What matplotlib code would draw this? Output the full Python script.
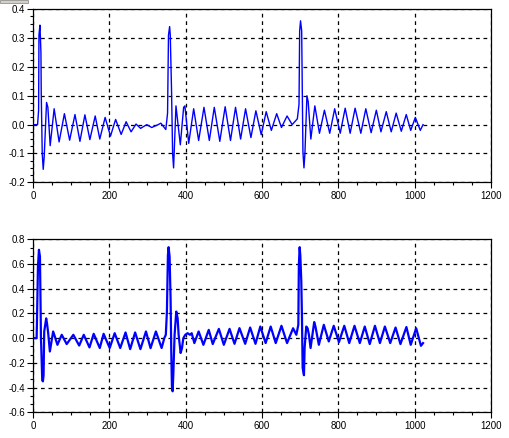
import matplotlib
matplotlib.use("Agg")
import matplotlib.pyplot as plt
from matplotlib.ticker import MultipleLocator, AutoMinorLocator
from matplotlib.patches import Rectangle

plt.rcParams['font.family'] = ['Liberation Sans', 'DejaVu Sans']
plt.rcParams['font.size'] = 7

# top signal, extrema
top_x = [0, 12, 14.7, 15.6, 18.2, 20.8, 21.6, 24.2, 26.8, 29.4, 35.5, 39, 45, 55.4,
         68.4, 82.3, 96, 110, 123, 136, 149, 163, 175, 189, 203, 216.5, 231, 244,
         257, 270, 282, 298, 311, 328, 335, 348, 352.6, 355, 358, 359.7, 363, 365.8,
         368.4, 374.6, 386, 394.7, 398, 408, 421, 434, 448, 462, 475, 489.5, 503.5,
         517.5, 530.7, 544, 557, 571, 584, 598, 611, 624.5, 638.5, 651, 665.7, 679,
         692.6, 697, 698.7, 701, 704, 705.6, 707.3, 710, 712.5, 717.7, 721, 728,
         738.5, 750.6, 763.6, 777.5, 790.5, 805, 818, 831, 844, 859, 872, 886, 899.6,
         911.7, 925.6, 938.6, 951.6, 965, 978, 989.7, 1001.8, 1014.8, 1022]
top_y = [0, 0, 0.05, 0.31, 0.345, 0.25, 0.11, -0.10, -0.155, -0.11, 0.077, 0.06, -0.073, 0.055,
         -0.06, 0.038, -0.054, 0.035, -0.058, 0.034, -0.052, 0.03, -0.05, 0.025, -0.04, 0.018, -0.034, 0.01,
         -0.025, 0.002, -0.013, 0.0, -0.01, 0.0, 0.005, -0.017, 0.04, 0.31, 0.34, 0.31, 0.12, -0.10,
         -0.15, 0.065, -0.07, 0.06, 0.065, -0.065, 0.055, -0.055, 0.06, -0.055, 0.06, -0.058, 0.062,
         -0.055, 0.06, -0.05, 0.055, -0.045, 0.048, -0.035, 0.045, -0.02, 0.038, -0.01, 0.03, 0.0,
         0.02, 0.07, 0.325, 0.36, 0.325, 0.118, -0.096, -0.15, -0.10, 0.10, 0.08, -0.05,
         0.065, -0.03, 0.05, -0.03, 0.055, -0.03, 0.057, -0.03, 0.057, -0.03, 0.055, -0.028, 0.05,
         -0.025, 0.045, -0.025, 0.04, -0.023, 0.035, -0.02, 0.025, -0.02, 0.0]

# bottom signal
bot_x = [0, 9.5, 10.4, 13, 15.6, 18.2, 19.9, 20.8, 21.6, 24.2, 26, 27.7, 29.4, 34.6, 37.2,
         39.8, 44.2, 52.8, 57.2, 64, 75.3, 88.3, 105.7, 121, 133, 148, 159, 175, 185, 201,
         214, 228.6, 242.5, 254.6, 267.6, 281.5, 296, 308, 322, 337, 344, 348, 350.9, 353.5,
         355.3, 357.9, 360.5, 362.3, 364, 365.8, 367.6, 371, 375.4, 379, 381.6, 386.8, 390.4,
         393.9, 399, 405, 411.4, 415.8, 422.8, 434, 446.5, 460.5, 471, 487, 500, 515, 528,
         541, 556, 569, 583, 595.6, 609.6, 622.8, 636, 651, 665.7, 681.5, 690, 695.2, 696.6,
         698.7, 700.4, 703, 704.8, 706.5, 708.2, 710, 711.7, 714.3, 716, 719.5, 723, 727.3,
         736.8, 740, 749, 762, 775, 788, 801.7, 815.6, 828.6, 842.4, 856.3, 869.3, 882.3,
         896, 909, 922, 936, 950, 962.8, 978.4, 989.7, 1004, 1016.5, 1022]
bot_y = [0, 0, 0.135, 0.58, 0.715, 0.66, 0.256, 0.0, -0.067, -0.34, -0.35, -0.30, 0.054, 0.16, 0.108,
         0.04, -0.108, 0.054, 0.013, -0.054, 0.027, -0.048, 0.027, -0.06, 0.027, -0.075, 0.035, -0.08, 0.035, -0.08,
         0.04, -0.08, 0.046, -0.089, 0.046, -0.089, 0.054, -0.081, 0.054, -0.08, 0.0, 0.027, 0.215, 0.67,
         0.736, 0.66, 0.32, -0.108, -0.39, -0.43, -0.30, 0.027, 0.215, 0.16, 0.027, -0.12, -0.08,
         0.0, 0.027, 0.04, 0.027, 0.04, -0.04, 0.054, -0.054, 0.067, -0.048, 0.075, -0.054, 0.075, -0.046,
         0.081, -0.046, 0.086, -0.046, 0.094, -0.04, 0.094, -0.04, 0.10, -0.04, 0.08, 0.027, 0.108, 0.59,
         0.736, 0.67, 0.46, 0.16, -0.24, -0.27, -0.30, -0.08, 0.027, 0.094, 0.08, 0.027, -0.08,
         0.13, 0.095, -0.054, 0.108, -0.027, 0.10, -0.032, 0.10, -0.04, 0.10, -0.04, 0.094, -0.048,
         0.10, -0.04, 0.094, -0.04, 0.086, -0.048, 0.09, -0.054, 0.08, -0.062, -0.04]

fig = plt.figure(figsize=(5.1, 4.38), dpi=100)
ax1 = fig.add_axes([0.0647, 0.5838, 0.898, 0.395])
ax2 = fig.add_axes([0.0647, 0.0587, 0.898, 0.395])

ax1.plot(top_x, top_y, color='#0000ff', lw=1.0)
ax2.plot(bot_x, bot_y, color='#0000ff', lw=1.6)

for ax, lo, hi, step, nminor in [(ax1, -0.2, 0.4, 0.1, 4), (ax2, -0.6, 0.8, 0.2, 3)]:
    ax.set_xlim(0, 1200)
    ax.set_ylim(lo, hi)
    ax.xaxis.set_major_locator(MultipleLocator(200))
    ax.xaxis.set_minor_locator(AutoMinorLocator(4))
    ax.yaxis.set_major_locator(MultipleLocator(step))
    ax.yaxis.set_minor_locator(AutoMinorLocator(nminor))
    ax.yaxis.set_major_formatter(plt.FuncFormatter(lambda v, p: '%.1f' % v))
    ax.grid(True, which='major', color='black', linestyle=(0, (3, 3)), linewidth=0.9)
    ax.tick_params(which='major', direction='out', length=4, width=0.8, pad=1.5, labelsize=7)
    ax.tick_params(which='minor', direction='out', length=2.5, width=0.8)
    ax.tick_params(axis='x', which='major', pad=2)
    for s in ax.spines.values():
        s.set_linewidth(0.9)

# little grey toolbar stub in the corner
fig.patches.append(Rectangle((0, 1 - 3 / 438), 28 / 510, 3 / 438, transform=fig.transFigure,
                             facecolor='#d4d0c8', edgecolor='#808080', lw=0.5))

fig.savefig('out.png', dpi=100)
